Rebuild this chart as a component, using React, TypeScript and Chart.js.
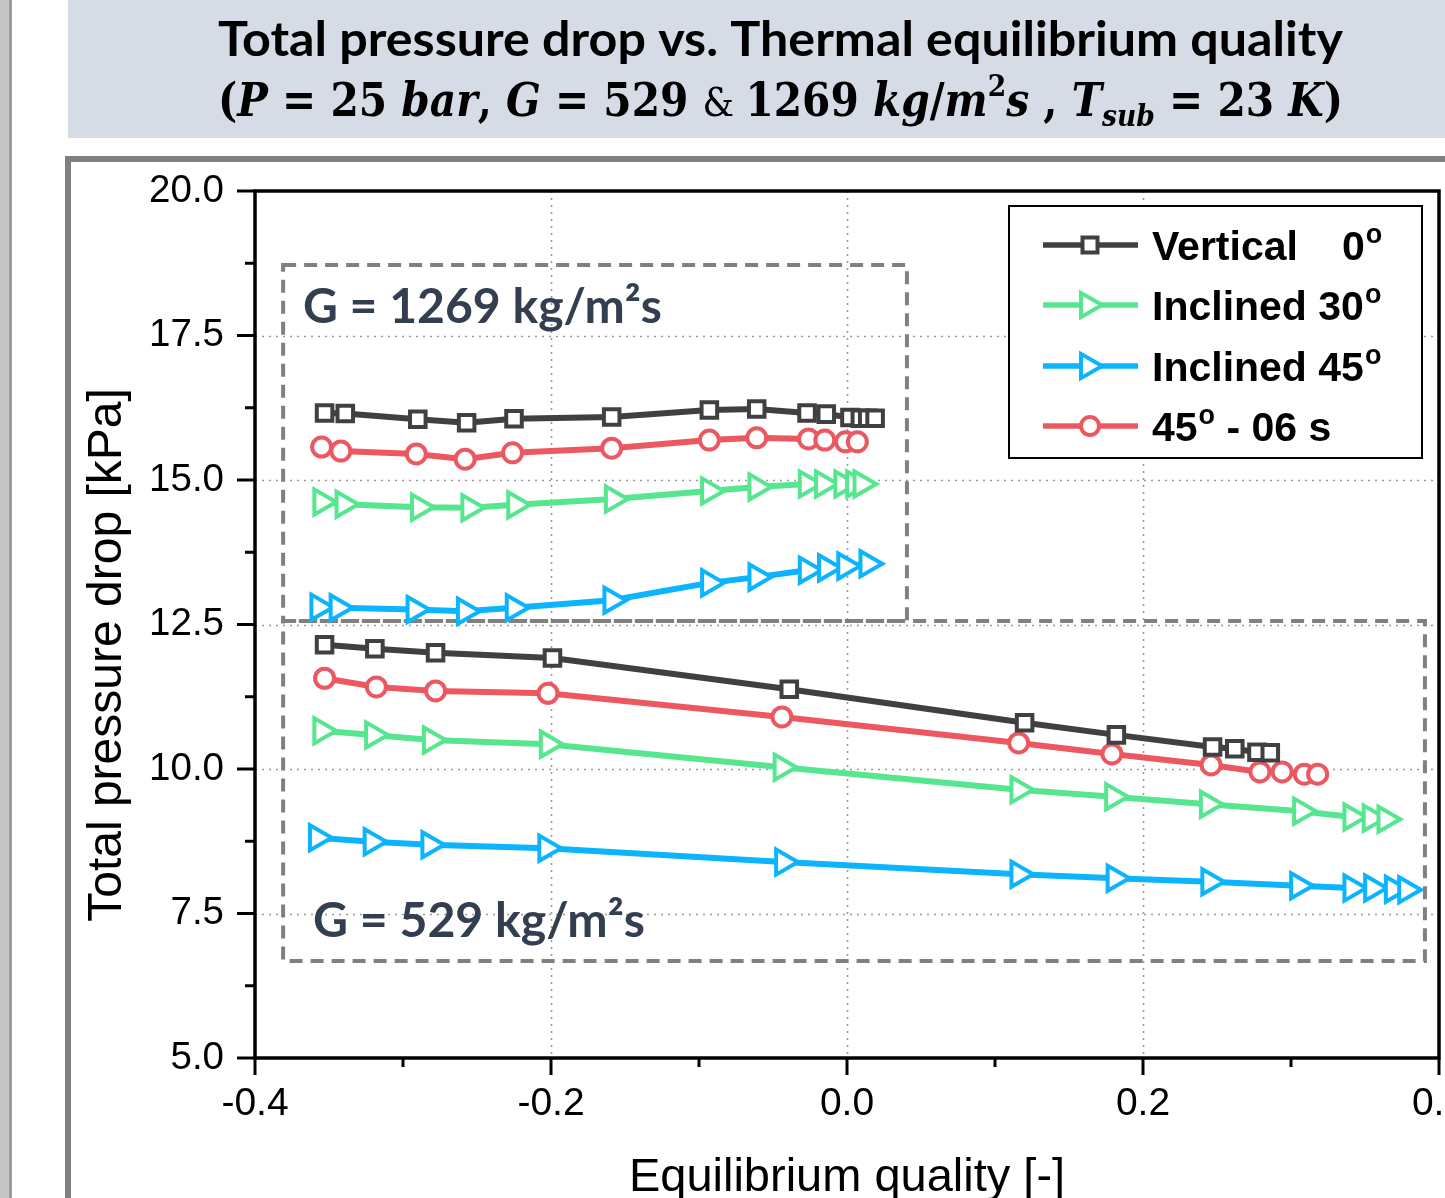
import React, { useEffect, useRef } from 'react';
import { Chart, registerables } from 'chart.js';

Chart.register(...registerables);

const W = 1445;
const H = 1198;

// ---- G = 1269 kg/m2s ----
const vertical1269X = [-0.353, -0.339, -0.290, -0.257, -0.225, -0.159, -0.093, -0.061, -0.027, -0.014, 0.002, 0.009, 0.014, 0.019];
const vertical1269Y = [16.16, 16.15, 16.05, 15.99, 16.06, 16.09, 16.21, 16.23, 16.16, 16.14, 16.08, 16.07, 16.07, 16.07];
const incl30_1269X = [-0.355, -0.340, -0.289, -0.255, -0.224, -0.158, -0.093, -0.061, -0.027, -0.016, -0.003, 0.005, 0.010];
const incl30_1269Y = [14.62, 14.58, 14.53, 14.52, 14.57, 14.67, 14.81, 14.88, 14.93, 14.93, 14.93, 14.93, 14.93];
const incl45_1269X = [-0.357, -0.344, -0.292, -0.258, -0.225, -0.159, -0.093, -0.061, -0.027, -0.014, -0.001, 0.014];
const incl45_1269Y = [12.80, 12.79, 12.76, 12.73, 12.79, 12.92, 13.22, 13.32, 13.44, 13.48, 13.51, 13.55];
const s06_1269X = [-0.355, -0.342, -0.291, -0.258, -0.226, -0.159, -0.093, -0.061, -0.026, -0.015, -0.001, 0.007];
const s06_1269Y = [15.57, 15.50, 15.45, 15.36, 15.47, 15.55, 15.69, 15.73, 15.71, 15.69, 15.66, 15.66];

// ---- G = 529 kg/m2s ----
const vertical529X = [-0.353, -0.319, -0.278, -0.199, -0.039, 0.120, 0.182, 0.247, 0.262, 0.277, 0.286];
const vertical529Y = [12.15, 12.08, 12.01, 11.92, 11.38, 10.80, 10.59, 10.38, 10.35, 10.29, 10.28];
const incl30_529X = [-0.355, -0.320, -0.281, -0.202, -0.044, 0.116, 0.180, 0.244, 0.307, 0.341, 0.354, 0.364];
const incl30_529Y = [10.66, 10.59, 10.50, 10.43, 10.03, 9.64, 9.52, 9.39, 9.27, 9.17, 9.15, 9.13];
const incl45_529X = [-0.358, -0.321, -0.282, -0.203, -0.043, 0.116, 0.181, 0.245, 0.305, 0.341, 0.355, 0.369, 0.378];
const incl45_529Y = [8.81, 8.74, 8.69, 8.63, 8.39, 8.18, 8.11, 8.05, 7.98, 7.94, 7.94, 7.92, 7.91];
const s06_529X = [-0.353, -0.318, -0.278, -0.202, -0.044, 0.116, 0.179, 0.246, 0.279, 0.294, 0.309, 0.318];
const s06_529Y = [11.57, 11.42, 11.35, 11.31, 10.90, 10.45, 10.26, 10.07, 9.95, 9.95, 9.91, 9.91];

// axis ranges / ticks
const X_MIN = -0.4;
const X_MAX = 0.4;
const X_STEP = 0.1;
const Y_MIN = 5;
const Y_MAX = 20;
const Y_STEP = 1.25;

// region boxes [xMin, xMax, yMin, yMax]
const box1269 = [-0.381, 0.0405, 12.56, 18.72];
const box529 = [-0.381, 0.3905, 6.68, 12.56];

const seriesNames = ['Vertical', 'Inclined 30', 'Inclined 45', '45 - 06 s'];
const seriesColors = ['#404040', '#55e68f', '#0bb4fc', '#ec5860'];

const SANS = '"Liberation Sans", Arial, sans-serif';
const LATO = 'Lato, "Open Sans", sans-serif';
const SERIF = '"DejaVu Serif", "Liberation Serif", serif';

const pts = (xs: number[], ys: number[]) => xs.map((x, i) => ({ x, y: ys[i] }));

type Run = { t: string; font: string; dy?: number };

function drawRuns(ctx: CanvasRenderingContext2D, runs: Run[], left: number, baseline: number, targetWidth: number) {
  const widths = runs.map((r) => {
    ctx.font = r.font;
    return ctx.measureText(r.t).width;
  });
  const total = widths.reduce((a, b) => a + b, 0);
  const sx = targetWidth / total;
  ctx.save();
  ctx.translate(left, baseline);
  ctx.scale(sx, 1);
  ctx.textBaseline = 'alphabetic';
  ctx.textAlign = 'left';
  let x = 0;
  runs.forEach((r, i) => {
    ctx.font = r.font;
    ctx.fillText(r.t, x, r.dy || 0);
    x += widths[i];
  });
  ctx.restore();
}

function drawMarker(ctx: CanvasRenderingContext2D, kind: string, x: number, y: number, color: string) {
  ctx.save();
  ctx.strokeStyle = color;
  ctx.fillStyle = '#ffffff';
  ctx.lineWidth = 4;
  ctx.beginPath();
  if (kind === 'rect') {
    ctx.rect(x - 7.5, y - 7.5, 15, 15);
  } else if (kind === 'triangle') {
    const r = 14;
    ctx.moveTo(x + r, y);
    ctx.lineTo(x - r / 2, y - r * 0.866);
    ctx.lineTo(x - r / 2, y + r * 0.866);
    ctx.closePath();
  } else {
    ctx.arc(x, y, 9, 0, Math.PI * 2);
  }
  ctx.fill();
  ctx.stroke();
  ctx.restore();
}

const decorPlugin = {
  id: 'decor',
  beforeDraw(chart: any) {
    const ctx: CanvasRenderingContext2D = chart.ctx;
    ctx.save();
    ctx.fillStyle = '#ffffff';
    ctx.fillRect(0, 0, W, H);
    // left window strip
    ctx.fillStyle = '#c6c6c6';
    ctx.fillRect(0, 0, 12, H);
    ctx.fillStyle = '#9c9c9c';
    ctx.fillRect(9, 0, 3, H);
    // title banner
    ctx.fillStyle = '#d6dce5';
    ctx.fillRect(68, 0, W - 68, 138);
    // outer frame
    ctx.strokeStyle = '#808080';
    ctx.lineWidth = 6;
    ctx.strokeRect(68, 159, W + 20, H + 20);
    // title
    ctx.fillStyle = '#000000';
    drawRuns(ctx, [{ t: 'Total pressure drop vs. Thermal equilibrium quality', font: `bold 48px ${LATO}` }], 218, 56, 1125);
    const bi = `italic bold 46px ${SERIF}`;
    const b = `bold 46px ${SERIF}`;
    const small = `italic bold 30px ${SERIF}`;
    const smallUp = `bold 30px ${SERIF}`;
    drawRuns(
      ctx,
      [
        { t: '(', font: b },
        { t: 'P', font: bi },
        { t: ' = ', font: b },
        { t: '25 ', font: b },
        { t: 'bar', font: bi },
        { t: ', ', font: b },
        { t: 'G', font: bi },
        { t: ' = ', font: b },
        { t: '529 ', font: b },
        { t: '& ', font: `40px ${SERIF}` },
        { t: '1269 ', font: b },
        { t: 'kg', font: bi },
        { t: '/', font: b },
        { t: 'm', font: bi },
        { t: '2', font: smallUp, dy: -20 },
        { t: 's', font: bi },
        { t: ' , ', font: b },
        { t: 'T', font: bi },
        { t: 'sub', font: small, dy: 10 },
        { t: ' = ', font: b },
        { t: '23 ', font: b },
        { t: 'K', font: bi },
        { t: ')', font: b },
      ],
      218,
      116,
      1125
    );
    ctx.restore();
  },
  beforeDatasetsDraw(chart: any) {
    const ctx: CanvasRenderingContext2D = chart.ctx;
    const xs = chart.scales.x;
    const ys = chart.scales.y;
    const area = chart.chartArea;
    ctx.save();
    // dotted grid at labelled ticks
    ctx.strokeStyle = '#9a9a9a';
    ctx.lineWidth = 1.6;
    ctx.setLineDash([2, 5]);
    xs.ticks.forEach((t: any) => {
      const k = Math.round(t.value * 10);
      if (k % 2 !== 0 || t.value <= X_MIN + 1e-9 || t.value >= X_MAX - 1e-9) return;
      const px = Math.round(xs.getPixelForValue(t.value)) + 0.5;
      ctx.beginPath();
      ctx.moveTo(px, area.top);
      ctx.lineTo(px, area.bottom);
      ctx.stroke();
    });
    ys.ticks.forEach((t: any) => {
      const k = Math.round(t.value / Y_STEP);
      if (k % 2 !== 0 || t.value <= Y_MIN + 1e-9 || t.value >= Y_MAX - 1e-9) return;
      const py = Math.round(ys.getPixelForValue(t.value)) + 0.5;
      ctx.beginPath();
      ctx.moveTo(area.left, py);
      ctx.lineTo(area.right, py);
      ctx.stroke();
    });
    // dashed region boxes
    ctx.strokeStyle = '#808080';
    ctx.lineWidth = 4;
    ctx.setLineDash([13, 8]);
    [box1269, box529].forEach((bx) => {
      const x1 = xs.getPixelForValue(bx[0]);
      const x2 = xs.getPixelForValue(bx[1]);
      const y1 = ys.getPixelForValue(bx[3]);
      const y2 = ys.getPixelForValue(bx[2]);
      ctx.strokeRect(x1, y1, x2 - x1, y2 - y1);
    });
    ctx.setLineDash([]);
    // region captions
    ctx.fillStyle = '#333f50';
    drawRuns(ctx, [{ t: 'G = 1269 kg/m²s', font: `bold 48px ${LATO}` }], 303, 323, 359);
    drawRuns(ctx, [{ t: 'G = 529 kg/m²s', font: `bold 48px ${LATO}` }], 313, 937, 332);
    ctx.restore();
  },
  afterDraw(chart: any) {
    const ctx: CanvasRenderingContext2D = chart.ctx;
    const xs = chart.scales.x;
    const ys = chart.scales.y;
    const area = chart.chartArea;
    ctx.save();
    // plot box
    ctx.strokeStyle = '#000000';
    ctx.lineWidth = 3.5;
    ctx.strokeRect(area.left, area.top, area.right - area.left, area.bottom - area.top);
    // tick marks (outside)
    ctx.lineWidth = 3;
    xs.ticks.forEach((t: any) => {
      const major = Math.round(t.value * 10) % 2 === 0;
      const px = xs.getPixelForValue(t.value);
      ctx.beginPath();
      ctx.moveTo(px, area.bottom);
      ctx.lineTo(px, area.bottom + (major ? 17 : 9));
      ctx.stroke();
    });
    ys.ticks.forEach((t: any) => {
      const major = Math.round(t.value / Y_STEP) % 2 === 0;
      const py = ys.getPixelForValue(t.value);
      ctx.beginPath();
      ctx.moveTo(area.left, py);
      ctx.lineTo(area.left - (major ? 18 : 10), py);
      ctx.stroke();
    });
    // axis titles
    ctx.fillStyle = '#000000';
    ctx.textAlign = 'center';
    ctx.textBaseline = 'alphabetic';
    ctx.font = `47px ${SANS}`;
    ctx.fillText('Equilibrium quality [-]', 847, 1191);
    ctx.save();
    ctx.translate(121, 655);
    ctx.rotate(-Math.PI / 2);
    ctx.font = `48px ${SANS}`;
    ctx.fillText('Total pressure drop [kPa]', 0, 0);
    ctx.restore();

    // legend
    ctx.fillStyle = '#ffffff';
    ctx.fillRect(1009, 206, 413, 252);
    ctx.strokeStyle = '#000000';
    ctx.lineWidth = 2;
    ctx.strokeRect(1009, 206, 413, 252);
    const rows = [245, 305, 366, 426];
    const kinds = ['rect', 'triangle', 'triangle', 'circle'];
    rows.forEach((ry, i) => {
      ctx.strokeStyle = seriesColors[i];
      ctx.lineWidth = 5.5;
      ctx.beginPath();
      ctx.moveTo(1043, ry);
      ctx.lineTo(1138, ry);
      ctx.stroke();
      drawMarker(ctx, kinds[i], kinds[i] === 'triangle' ? 1088 : 1090, ry, seriesColors[i]);
    });
    ctx.fillStyle = '#000000';
    ctx.textAlign = 'left';
    const lf = `bold 41px ${SANS}`;
    const sf = `bold 27px ${SANS}`;
    const put = (t: string, x: number, y: number, f: string) => {
      ctx.font = f;
      ctx.fillText(t, x, y);
      return x + ctx.measureText(t).width;
    };
    let x = put('Vertical', 1152, 260, lf);
    x = put('0', 1342, 260, lf);
    put('o', x + 1, 243, sf);
    x = put('Inclined 30', 1152, 320, lf);
    put('o', x + 1, 303, sf);
    x = put('Inclined 45', 1152, 381, lf);
    put('o', x + 1, 364, sf);
    x = put('45', 1152, 441, lf);
    x = put('o', x + 1, 424, sf);
    put(' - 06 s', x, 441, lf);
    ctx.restore();
  },
};

export default function App() {
  const ref = useRef<HTMLCanvasElement | null>(null);

  useEffect(() => {
    if (!ref.current) return;
    const line = (label: string, data: any[], color: string, style: string) => ({
      label,
      data,
      borderColor: color,
      backgroundColor: color,
      borderWidth: 6,
      pointStyle: style,
      pointRotation: style === 'triangle' ? 90 : 0,
      pointRadius: style === 'rect' ? 11 : style === 'triangle' ? 14.5 : 9.5,
      pointBorderWidth: 4,
      pointBorderColor: color,
      pointBackgroundColor: '#ffffff',
      tension: 0,
      fill: false,
    });
    const chart = new Chart(ref.current, {
      type: 'line',
      data: {
        datasets: [
          line(seriesNames[0], pts(vertical1269X, vertical1269Y), seriesColors[0], 'rect'),
          line(seriesNames[0], pts(vertical529X, vertical529Y), seriesColors[0], 'rect'),
          line(seriesNames[3], pts(s06_1269X, s06_1269Y), seriesColors[3], 'circle'),
          line(seriesNames[3], pts(s06_529X, s06_529Y), seriesColors[3], 'circle'),
          line(seriesNames[1], pts(incl30_1269X, incl30_1269Y), seriesColors[1], 'triangle'),
          line(seriesNames[1], pts(incl30_529X, incl30_529Y), seriesColors[1], 'triangle'),
          line(seriesNames[2], pts(incl45_1269X, incl45_1269Y), seriesColors[2], 'triangle'),
          line(seriesNames[2], pts(incl45_529X, incl45_529Y), seriesColors[2], 'triangle'),
        ],
      },
      options: {
        responsive: false,
        animation: false,
        devicePixelRatio: 1,
        layout: { autoPadding: false, padding: { top: 191, right: 6, left: 0, bottom: 0 } },
        plugins: {
          legend: { display: false },
          tooltip: { enabled: false },
          title: { display: false },
        },
        scales: {
          x: {
            type: 'linear',
            min: X_MIN,
            max: X_MAX,
            grid: { display: false, drawTicks: false },
            border: { display: false },
            ticks: {
              stepSize: X_STEP,
              autoSkip: false,
              maxRotation: 0,
              padding: 23,
              color: '#000000',
              font: { family: SANS, size: 39 },
              callback: (v: any) => {
                const n = Number(v);
                if (Math.round(n * 10) % 2 !== 0) return '';
                return Math.abs(n) < 1e-9 ? '0.0' : n.toFixed(1);
              },
            },
            afterFit: (s: any) => {
              s.height = H - 1058;
              s.paddingLeft = 0;
              s.paddingRight = 0;
            },
          },
          y: {
            type: 'linear',
            min: Y_MIN,
            max: Y_MAX,
            grid: { display: false, drawTicks: false },
            border: { display: false },
            ticks: {
              stepSize: Y_STEP,
              autoSkip: false,
              padding: 31,
              color: '#000000',
              font: { family: SANS, size: 38.5 },
              callback: (v: any) => {
                const n = Number(v);
                return Math.round(n / Y_STEP) % 2 === 0 ? n.toFixed(1) : '';
              },
            },
            afterFit: (s: any) => {
              s.width = 255;
              s.paddingTop = 0;
              s.paddingBottom = 0;
            },
          },
        },
      },
      plugins: [decorPlugin],
    } as any);
    return () => chart.destroy();
  }, []);

  return (
    <div style={{ position: 'absolute', left: 0, top: 0, width: W, height: H, overflow: 'hidden', background: '#ffffff' }}>
      <canvas ref={ref} width={W} height={H} style={{ display: 'block', width: W, height: H }} />
    </div>
  );
}
